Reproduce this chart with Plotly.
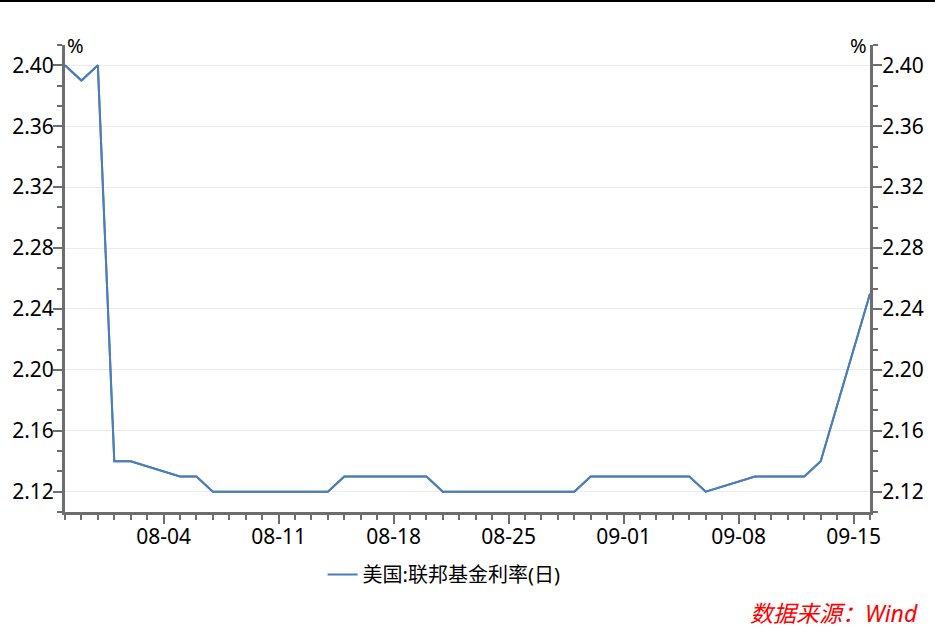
import plotly.graph_objects as go

dates = ["2019-07-29", "2019-07-30", "2019-07-31", "2019-08-01", "2019-08-02",
         "2019-08-05", "2019-08-06", "2019-08-07", "2019-08-08", "2019-08-09",
         "2019-08-12", "2019-08-13", "2019-08-14", "2019-08-15", "2019-08-16",
         "2019-08-19", "2019-08-20", "2019-08-21", "2019-08-22", "2019-08-23",
         "2019-08-26", "2019-08-27", "2019-08-28", "2019-08-29", "2019-08-30",
         "2019-09-03", "2019-09-04", "2019-09-05", "2019-09-06",
         "2019-09-09", "2019-09-10", "2019-09-11", "2019-09-12", "2019-09-13",
         "2019-09-16"]
rates = [2.40, 2.39, 2.40, 2.14, 2.14,
         2.13, 2.13, 2.12, 2.12, 2.12,
         2.12, 2.12, 2.12, 2.13, 2.13,
         2.13, 2.13, 2.12, 2.12, 2.12,
         2.12, 2.12, 2.12, 2.12, 2.13,
         2.13, 2.13, 2.13, 2.12,
         2.13, 2.13, 2.13, 2.13, 2.14,
         2.25]
series_name = "美国:联邦基金利率(日)"
source_text = "数据来源：Wind"
unit = "%"

FONT = "Noto Sans, Noto Sans CJK SC, sans-serif"
LINE = "#4A7EBB"
AX = "#6d6d6d"
yr = [2.12 - 0.04 / 3, 2.40 + 0.04 / 3]

fig = go.Figure()
fig.add_trace(go.Scatter(x=dates, y=rates, mode="lines", name=series_name,
                         line=dict(color=LINE, width=2)))
fig.add_trace(go.Scatter(x=dates, y=rates, mode="lines", name=series_name,
                         line=dict(color=LINE, width=2), yaxis="y2",
                         showlegend=False, hoverinfo="skip"))

yaxis_common = dict(
    range=yr, tick0=2.12, dtick=0.04, tickformat=".2f",
    ticks="outside", ticklen=9, tickwidth=2, tickcolor=AX,
    showline=True, linecolor=AX, linewidth=3,
    tickfont=dict(family=FONT, size=21, color="black"),
    minor=dict(tick0=2.12, dtick=0.04 / 3, ticks="outside", ticklen=5,
               tickwidth=2, tickcolor=AX, showgrid=False),
    zeroline=False,
)

fig.update_layout(
    width=935, height=628,
    margin=dict(l=65, r=65, t=45, b=116),
    paper_bgcolor="white", plot_bgcolor="white",
    font=dict(family=FONT, color="black"),
    xaxis=dict(
        type="date", range=["2019-07-29", "2019-09-16"],
        tick0="2019-08-04", dtick=7 * 86400000, tickformat="%m-%d",
        ticks="outside", ticklen=9, tickwidth=2, tickcolor=AX,
        showline=True, linecolor=AX, linewidth=3, showgrid=False,
        tickfont=dict(family=FONT, size=21, color="black"),
        ticklabelstandoff=-5,
        minor=dict(dtick=86400000, tick0="2019-07-29", ticks="outside",
                   ticklen=5, tickwidth=2, tickcolor=AX, showgrid=False),
        zeroline=False,
    ),
    yaxis=dict(side="left", showgrid=True, gridcolor="#ebebeb", gridwidth=1,
               ticklabelstandoff=-5, **yaxis_common),
    yaxis2=dict(side="right", overlaying="y", showgrid=False,
                ticklabelstandoff=-4, **yaxis_common),
    legend=dict(orientation="h", x=0.32, xanchor="left", y=-0.134, yanchor="middle",
                font=dict(family=FONT, size=20, color="black"),
                bgcolor="rgba(0,0,0,0)"),
    showlegend=True,
)

fig.add_annotation(text=unit, xref="paper", yref="paper", x=0.0, y=1.0,
                   xanchor="left", yanchor="middle", showarrow=False,
                   font=dict(family=FONT, size=20, color="black"), xshift=0)
fig.add_annotation(text=unit, xref="paper", yref="paper", x=1.0, y=1.0,
                   xanchor="right", yanchor="middle", showarrow=False,
                   font=dict(family=FONT, size=20, color="black"), xshift=-1)
fig.add_annotation(text="<i>" + source_text + "</i>", xref="paper", yref="paper",
                   x=1.0, y=-0.2163, xanchor="right", yanchor="middle",
                   showarrow=False, xshift=50,
                   font=dict(family=FONT, size=23, color="red"))
fig.add_shape(type="line", xref="paper", yref="paper",
              x0=-65 / 805, x1=(805 + 65) / 805, y0=1 + 44 / 467, y1=1 + 44 / 467,
              line=dict(color="black", width=2))

fig.write_html("out.html", config={"displayModeBar": False},
               post_script="document.body.style.margin='0';")
